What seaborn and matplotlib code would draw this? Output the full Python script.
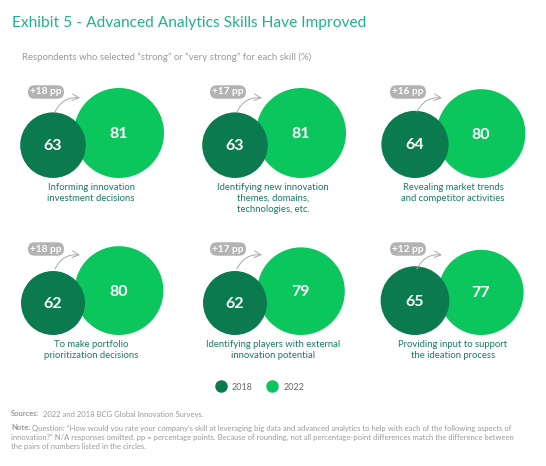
import pandas as pd
import numpy as np
import matplotlib
matplotlib.use('Agg')
import matplotlib.pyplot as plt
from matplotlib.lines import Line2D
import seaborn as sns

skills = [
    'Informing innovation\ninvestment decisions',
    'Identifying new innovation\nthemes, domains,\ntechnologies, etc.',
    'Revealing market trends\nand competitor activities',
    'To make portfolio\nprioritization decisions',
    'Identifying players with external\ninnovation potential',
    'Providing input to support\nthe ideation process',
]
values_2018 = [63, 63, 64, 62, 62, 65]
values_2022 = [81, 81, 80, 80, 79, 77]
pp_change = ['+18 pp', '+17 pp', '+16 pp', '+18 pp', '+17 pp', '+12 pp']
years = ['2018', '2022']

DARK = '#0b7b4f'
LIGHT = '#0ac65c'
GRAY = '#a9a9a9'
TEXT_GREEN = '#1a7a66'
NOTE_GRAY = '#9a9a9a'

sns.set_theme(style='white')
plt.rcParams['font.family'] = ['Lato', 'DejaVu Sans']

# layout (pixels in a 546x466 canvas)
col_x = [53, 235, 415]
row_base = [178, 335]
gap = 66
size_norm = (62, 81)
sizes = (2123, 4199)   # marker area in pt^2


def radius_px(v):
    s = sizes[0] + (v - size_norm[0]) / (size_norm[1] - size_norm[0]) * (sizes[1] - sizes[0])
    return np.sqrt(s) / 0.72 / 2


rows = []
for i, skill in enumerate(skills):
    cx = col_x[i % 3]
    base = row_base[i // 3]
    # 2022 first so the 2018 circle is drawn on top
    for year, v, dx in [('2022', values_2022[i], gap), ('2018', values_2018[i], 0)]:
        rows.append({'skill': skill, 'year': year, 'value': v,
                     'x': cx + dx, 'y': base - radius_px(v)})
df = pd.DataFrame(rows)

fig = plt.figure(figsize=(5.46, 4.66), dpi=100)
ax = fig.add_axes([0, 0, 1, 1])
ax.set_xlim(0, 546)
ax.set_ylim(466, 0)
ax.axis('off')

sns.scatterplot(data=df, x='x', y='y', hue='year', size='value',
                sizes=sizes, size_norm=size_norm,
                palette={'2018': DARK, '2022': LIGHT},
                linewidth=0, legend=False, ax=ax)

for _, r in df.iterrows():
    ax.text(r['x'], r['y'] + 1, str(r['value']), color='white', fontsize=11.5,
            fontweight='bold', ha='center', va='center')

for i, skill in enumerate(skills):
    cx = col_x[i % 3]
    base = row_base[i // 3]
    # skill label
    ax.text(cx + gap / 2 + 5, base + 5, skill, ha='center', va='top',
            fontsize=6.8, color=TEXT_GREEN, linespacing=1.25)
    # pp badge
    ax.text(cx - 7, base - 86, pp_change[i], ha='center', va='center',
            fontsize=7.3, color='white', fontweight='bold',
            bbox=dict(boxstyle='round,pad=0.22,rounding_size=0.65',
                      fc='#b3b3b3', ec='none'))
    # curved arrow
    ax.annotate('', xy=(cx + 27, base - 80), xytext=(cx + 2, base - 66),
                arrowprops=dict(arrowstyle='->', color=GRAY, lw=0.7,
                                connectionstyle='arc3,rad=-0.35',
                                shrinkA=0, shrinkB=0))

fig.text(12 / 546, 1 - 23 / 466, 'Exhibit 5 - Advanced Analytics Skills Have Improved',
         fontsize=11.2, color='#20b28e', va='center', ha='left')
fig.text(22 / 546, 1 - 57 / 466,
         'Respondents who selected \u201cstrong\u201d or \u201cvery strong\u201d for each skill (%)',
         fontsize=6.9, color='#999999', va='center', ha='left')

handles = [Line2D([], [], marker='o', ls='', color=DARK, markersize=8),
           Line2D([], [], marker='o', ls='', color=LIGHT, markersize=8)]
fig.legend(handles, years, loc='center', bbox_to_anchor=(258 / 546, 1 - 387 / 466),
           ncol=2, frameon=False, fontsize=6.5, handletextpad=0.2,
           columnspacing=1.2, labelcolor='#666666')

# footnotes
fig.text(11 / 546, 1 - 414 / 466, 'Sources:', fontsize=5.5, color=NOTE_GRAY,
         fontweight='bold', va='center')
fig.text(43 / 546, 1 - 414 / 466, '2022 and 2018 BCG Global Innovation Surveys.',
         fontsize=5.5, color=NOTE_GRAY, va='center')
note_lines = [
    'Question: \u201cHow would you rate your company\u2019s skill at leveraging big data and '
    'advanced analytics to help with each of the following aspects of',
    'innovation?\u201d N/A responses omitted. pp = percentage points. Because of rounding, '
    'not all percentage-point differences match the difference between',
    'the pairs of numbers listed in the circles.',
]
fig.text(11 / 546, 1 - 428 / 466, 'Note:', fontsize=5.5, color=NOTE_GRAY,
         fontweight='bold', va='center')
for k, line in enumerate(note_lines):
    x0 = 32 if k == 0 else 11
    fig.text(x0 / 546, 1 - (428 + 9 * k) / 466, line, fontsize=5.5,
             color=NOTE_GRAY, va='center')

fig.savefig('out.png', dpi=100)
